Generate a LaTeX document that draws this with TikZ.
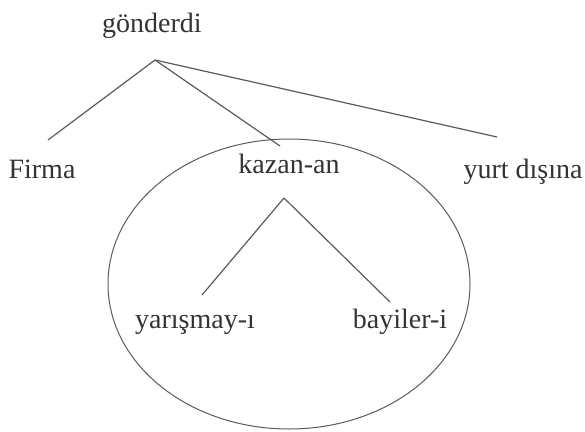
\documentclass[tikz,border=0pt]{standalone}
\usepackage{fontspec}
\setmainfont{Liberation Serif}
\usetikzlibrary{positioning, shapes.geometric}
\definecolor{ink}{HTML}{333333}
\definecolor{edge}{HTML}{5A5A5A}

\begin{document}
\begin{tikzpicture}[
    x=1pt, y=-1pt,
    every node/.style={font=\fontsize{28}{30}\selectfont, text=ink},
    word/.style={anchor=base, inner sep=0pt},
    branch/.style={draw=edge, line width=1.2pt},
    clause/.style={draw=edge, line width=1pt, ellipse, inner sep=0pt,
      minimum width=362pt, minimum height=290pt}
]
  \useasboundingbox (0,0) rectangle (585,431);

  % words of the main clause
  \node[word] (verb) at (152,32) {gönderdi};
  \node[word] (subj) at (42,178) {Firma};
  \node[word] (rel) at (289,173) {kazan-an};
  \node[word] (dir) at (523,178) {yurt dışına};

  % words of the embedded clause
  \node[word] (obj) at (195,328) {yarışmay-ı};
  \node[word] (agent) at (400,328) {bayiler-i};

  \node[clause] (scope) at (289,284) {};

  \coordinate (verbtip) at (155,60);
  \coordinate (subjtip) at (48,140);
  \coordinate (reltip) at (280,146);
  \coordinate (dirtip) at (497,137);
  \coordinate (relroot) at (284,198);
  \coordinate (objtip) at (202,295);
  \coordinate (agenttip) at (390,302);

  \draw[branch] (verbtip) -- (subjtip);
  \draw[branch] (verbtip) -- (reltip);
  \draw[branch] (verbtip) -- (dirtip);
  \draw[branch] (relroot) -- (objtip);
  \draw[branch] (relroot) -- (agenttip);
\end{tikzpicture}
\end{document}
